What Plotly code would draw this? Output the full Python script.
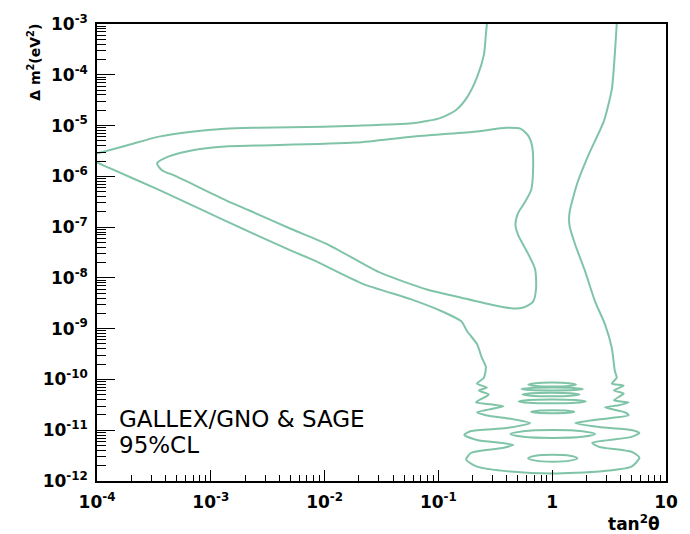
import numpy as np
import plotly.graph_objects as go

# ---- data (log10 tan^2(theta), log10 dm^2) ----
# outer 95% CL contour, upper-left arm (enters at top, leaves at left edge)
outer_a_lx = [-0.574, -0.583, -0.600, -0.661, -0.747, -0.834, -0.946, -1.007, -1.119,
              -1.232, -1.725, -2.010, -2.590, -2.875, -3.170, -3.455, -3.740, -4.000]
outer_a_ly = [-3.000, -3.214, -3.603, -4.051, -4.440, -4.673, -4.819, -4.868, -4.916,
              -4.955, -5.004, -5.023, -5.043, -5.062, -5.121, -5.218, -5.393, -5.549]

# outer contour, lower branch + oscillating low-dm2 part + right arm
outer_b_lx = [-4.000, -3.888, -3.455, -2.875, -2.304, -2.097, -1.664, -1.232, -0.946,
              -0.799, -0.747, -0.661, -0.618, -0.583, -0.600, -0.661, -0.574, -0.644,
              -0.557, -0.670, -0.540, -0.427, -0.661, -0.583, -0.401, -0.194, -0.401,
              -0.713, -0.773, -0.661, -0.341, -0.427, -0.713, -0.756, -0.661, -0.367,
              0.005, 0.412, 0.697, 0.766, 0.697, 0.412, 0.351, 0.697, 0.766, 0.697,
              0.412, 0.204, 0.498, 0.671, 0.637, 0.464, 0.585, 0.671, 0.542, 0.628,
              0.542, 0.628, 0.524, 0.567, 0.550, 0.542, 0.524, 0.464, 0.377, 0.291,
              0.204, 0.152, 0.152, 0.221, 0.325, 0.455, 0.524, 0.550, 0.567]
outer_b_ly = [-5.724, -5.840, -6.268, -6.872, -7.455, -7.650, -8.117, -8.428, -8.681,
              -8.856, -9.051, -9.304, -9.576, -9.751, -9.965, -10.082, -10.160, -10.218,
              -10.296, -10.451, -10.490, -10.529, -10.646, -10.704, -10.763, -10.860, -10.957,
              -11.016, -11.093, -11.191, -11.288, -11.346, -11.444, -11.580, -11.716, -11.813,
              -11.852, -11.813, -11.716, -11.541, -11.424, -11.327, -11.249, -11.132, -11.054, -10.996,
              -10.938, -10.860, -10.763, -10.704, -10.646, -10.549, -10.510, -10.451, -10.412, -10.276,
              -10.218, -10.121, -10.082, -9.965, -9.829, -9.693, -9.381, -8.914, -8.467, -7.883,
              -7.358, -6.969, -6.716, -6.132, -5.549, -4.907, -4.284, -3.603, -3.000]

# inner closed contour
inner_lx = [-3.472, -3.369, -3.170, -2.875, -2.590, -1.725, -1.232, -0.687, -0.401,
            -0.280, -0.211, -0.176, -0.168, -0.185, -0.254, -0.298, -0.323, -0.298,
            -0.228, -0.151, -0.142, -0.168, -0.254, -0.341, -0.540, -0.834, -1.093,
            -1.526, -1.958, -2.304, -2.676, -2.875, -3.308, -3.429, -3.472]
inner_ly = [-5.743, -5.607, -5.490, -5.412, -5.393, -5.335, -5.218, -5.121, -5.043,
            -5.062, -5.198, -5.412, -5.879, -6.268, -6.560, -6.716, -6.949, -7.163,
            -7.455, -7.825, -8.214, -8.467, -8.584, -8.603, -8.525, -8.370, -8.233,
            -7.883, -7.358, -7.027, -6.658, -6.463, -5.996, -5.879, -5.743]

# small closed islands near maximal mixing at low dm2
island_lx = [
    [-0.21, -0.147, 0.0, 0.147, 0.21, 0.147, 0.0, -0.147, -0.21],
    [-0.27, -0.19, 0.0, 0.19, 0.27, 0.19, 0.0, -0.19, -0.27],
    [-0.26, -0.185, -0.01, 0.165, 0.24, 0.165, -0.01, -0.185, -0.26],
    [-0.295, -0.206, 0.0, 0.206, 0.295, 0.206, 0.0, -0.206, -0.295],
    [-0.185, -0.128, 0.005, 0.138, 0.195, 0.138, 0.005, -0.128, -0.185],
    [-0.367, -0.255, 0.005, 0.265, 0.377, 0.265, 0.005, -0.255, -0.367],
    [-0.211, -0.146, 0.005, 0.156, 0.221, 0.156, 0.005, -0.146, -0.211],
]
island_ly = [
    [-10.101, -10.073, -10.062, -10.073, -10.101, -10.129, -10.140, -10.129, -10.101],
    [-10.189, -10.168, -10.160, -10.168, -10.189, -10.210, -10.218, -10.210, -10.189],
    [-10.296, -10.272, -10.262, -10.272, -10.296, -10.320, -10.330, -10.320, -10.296],
    [-10.432, -10.404, -10.393, -10.404, -10.432, -10.460, -10.471, -10.460, -10.432],
    [-10.636, -10.615, -10.607, -10.615, -10.636, -10.657, -10.665, -10.657, -10.636],
    [-11.074, -11.019, -10.996, -11.019, -11.074, -11.129, -11.152, -11.129, -11.074],
    [-11.551, -11.503, -11.483, -11.503, -11.551, -11.599, -11.619, -11.599, -11.551],
]

x_tick_exp = [-4, -3, -2, -1, 0, 1]
x_tick_text = ["10<sup>-4</sup>", "10<sup>-3</sup>", "10<sup>-2</sup>", "10<sup>-1</sup>", "1", "10"]
y_tick_exp = [-3, -4, -5, -6, -7, -8, -9, -10, -11, -12]
y_tick_text = ["10<sup>%d</sup>" % e for e in y_tick_exp]

LINE = "#80c4a8"

fig = go.Figure()

def add_curve(lx, ly, smooth=0.7):
    fig.add_trace(go.Scatter(
        x=10 ** np.array(lx), y=10 ** np.array(ly), mode="lines",
        line=dict(color=LINE, width=2, shape="spline", smoothing=smooth),
        hoverinfo="skip", showlegend=False))

add_curve(outer_a_lx, outer_a_ly)
add_curve(outer_b_lx, outer_b_ly, 0.6)
add_curve(inner_lx, inner_ly)
for lx, ly in zip(island_lx, island_ly):
    add_curve(lx, ly, 0.9)

x_minor = [m * 10.0 ** e for e in range(-4, 1) for m in range(2, 10)]
y_minor = [m * 10.0 ** e for e in range(-12, -3) for m in range(2, 10)]

tickfont = dict(family="DejaVu Sans", size=17, color="black", weight="bold")

fig.update_xaxes(
    type="log", range=[-4, 1], showgrid=False, zeroline=False,
    showline=True, linecolor="black", linewidth=1.5, mirror=True,
    ticks="inside", ticklen=11, tickwidth=1.2, tickcolor="black",
    tickmode="array", tickvals=[10.0 ** e for e in x_tick_exp], ticktext=x_tick_text,
    tickfont=tickfont, ticklabelstandoff=5,
    minor=dict(tickmode="array", tickvals=x_minor, ticks="inside", ticklen=6,
               tickwidth=1, tickcolor="black", showgrid=False),
)
fig.update_yaxes(
    type="log", range=[-12, -3], showgrid=False, zeroline=False,
    showline=True, linecolor="black", linewidth=1.5, mirror=True,
    ticks="inside", ticklen=18, tickwidth=1.2, tickcolor="black",
    tickmode="array", tickvals=[10.0 ** e for e in y_tick_exp], ticktext=y_tick_text,
    tickfont=tickfont, ticklabelstandoff=4,
    minor=dict(tickmode="array", tickvals=y_minor, ticks="inside", ticklen=9,
               tickwidth=1, tickcolor="black", showgrid=False),
)

fig.update_layout(
    width=690, height=534,
    margin=dict(l=97, r=14, t=19, b=53),
    plot_bgcolor="white", paper_bgcolor="white",
    showlegend=False,
    annotations=[
        dict(text="Δ m<sup>2</sup>(eV<sup>2</sup>)", xref="paper", yref="paper",
             x=-0.1105, y=1.004, xanchor="center", yanchor="top", textangle=-90,
             showarrow=False, font=dict(family="DejaVu Sans", size=14, color="black", weight="bold")),
        dict(text="tan<sup>2</sup>θ", xref="paper", yref="paper",
             x=0.993, y=-0.091, xanchor="right", yanchor="middle",
             showarrow=False, font=dict(family="DejaVu Sans", size=17, color="black", weight="bold")),
        dict(text="GALLEX/GNO &amp; SAGE", xref="paper", yref="paper",
             x=0.036, y=0.1364, xanchor="left", yanchor="middle",
             showarrow=False, font=dict(family="DejaVu Sans", size=23, color="black")),
        dict(text="95%CL", xref="paper", yref="paper",
             x=0.035, y=0.079, xanchor="left", yanchor="middle",
             showarrow=False, font=dict(family="DejaVu Sans", size=23, color="black")),
    ],
)

fig.write_html("out.html")
